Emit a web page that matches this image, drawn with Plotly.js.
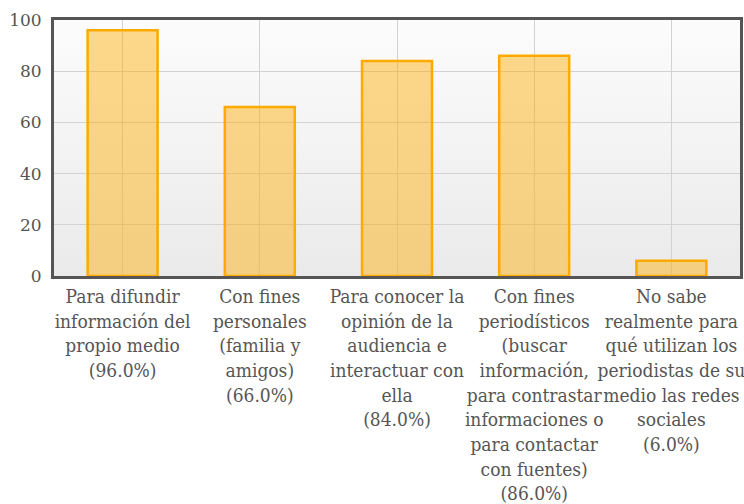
<!DOCTYPE html>
<html>
<head>
<meta charset="utf-8">
<script src="https://cdn.plot.ly/plotly-3.0.1.min.js"></script>
<style>html,body{margin:0;padding:0;background:#fff;}#chart{width:744px;height:504px;}</style>
</head>
<body>
<div id="chart"></div>
<script>
const categories = [
  "Para difundir<br>información del<br>propio medio<br>(96.0%)",
  "Con fines<br>personales<br>(familia y<br>amigos)<br>(66.0%)",
  "Para conocer la<br>opinión de la<br>audiencia e<br>interactuar con<br>ella<br>(84.0%)",
  "Con fines<br>periodísticos<br>(buscar<br>información,<br>para contrastar<br>informaciones o<br>para contactar<br>con fuentes)<br>(86.0%)",
  "No sabe<br>realmente para<br>qué utilizan los<br>periodistas de su<br>medio las redes<br>sociales<br>(6.0%)"
];
const values = [96, 66, 84, 86, 6];
const yTicks = [0, 20, 40, 60, 80, 100];

const grad = 'data:image/svg+xml;utf8,' + encodeURIComponent(
  '<svg xmlns="http://www.w3.org/2000/svg" width="100" height="100" preserveAspectRatio="none" viewBox="0 0 100 100">' +
  '<defs><linearGradient id="g" x1="0" y1="0" x2="0" y2="1">' +
  '<stop offset="0" stop-color="#fcfcfc"/><stop offset="1" stop-color="#eaeaea"/></linearGradient></defs>' +
  '<rect width="100" height="100" fill="url(#g)"/></svg>');

const serifC = 'DejaVu Serif Condensed, DejaVu Serif';
const serif = 'DejaVu Serif';

const trace = {
  type: 'bar',
  x: categories,
  y: values,
  marker: {color: 'rgba(255,170,0,0.45)', line: {color: '#ffaa00', width: 2.5}},
  hoverinfo: 'none'
};

const layout = {
  width: 744, height: 504,
  margin: {l: 54, r: 4, t: 20, b: 228, pad: 0},
  paper_bgcolor: '#ffffff',
  plot_bgcolor: 'rgba(0,0,0,0)',
  bargap: 0.49,
  showlegend: false,
  font: {family: serifC, size: 19, color: '#555'},
  images: [{source: grad, xref: 'paper', yref: 'paper', x: 0, y: 1, sizex: 1, sizey: 1,
            xanchor: 'left', yanchor: 'top', sizing: 'stretch', layer: 'below'}],
  xaxis: {
    showgrid: true, gridcolor: '#d2d2d2', gridwidth: 1,
    showline: true, linecolor: '#555', linewidth: 3, mirror: true,
    ticks: 'outside', ticklen: 1, tickcolor: 'rgba(0,0,0,0)', automargin: false, tickangle: 0,
    tickfont: {family: serifC, size: 19, color: '#555'},
    fixedrange: true
  },
  yaxis: {
    range: [0, 100], tickvals: yTicks, ticktext: yTicks.map(String),
    showgrid: true, gridcolor: '#d2d2d2', gridwidth: 1,
    showline: true, linecolor: '#555', linewidth: 3, mirror: true,
    zeroline: false, ticks: 'outside', ticklen: 6, tickcolor: 'rgba(0,0,0,0)',
    automargin: false,
    tickfont: {family: serif, size: 17, color: '#555'},
    fixedrange: true
  }
};

Plotly.newPlot('chart', [trace], layout, {displayModeBar: false, staticPlot: true});
</script>
</body>
</html>
